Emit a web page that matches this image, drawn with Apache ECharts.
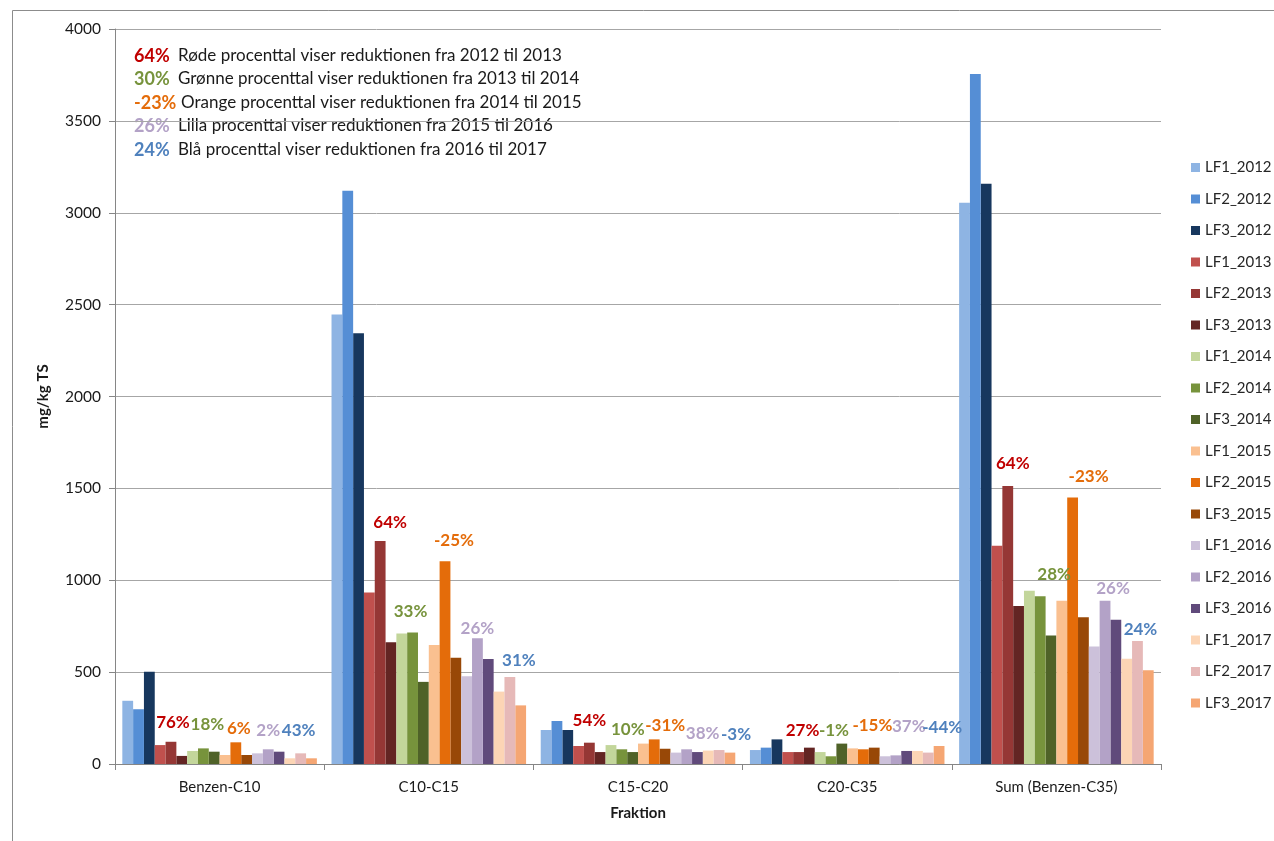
<!DOCTYPE html>
<html>
<head>
<meta charset="utf-8">
<title>Fraktion</title>
<script src="https://cdn.jsdelivr.net/npm/echarts@6/dist/echarts.min.js"></script>
<style>
  html, body { margin: 0; padding: 0; background: #fff; }
  #chart { width: 1274px; height: 841px; }
</style>
</head>
<body>
<div id="chart"></div>
<script>
// kategorier paa x-aksen
const categories = ['Benzen-C10', 'C10-C15', 'C15-C20', 'C20-C35', 'Sum (Benzen-C35)']
const seriesNames = [
  'LF1_2012', 'LF2_2012', 'LF3_2012',
  'LF1_2013', 'LF2_2013', 'LF3_2013',
  'LF1_2014', 'LF2_2014', 'LF3_2014',
  'LF1_2015', 'LF2_2015', 'LF3_2015',
  'LF1_2016', 'LF2_2016', 'LF3_2016',
  'LF1_2017', 'LF2_2017', 'LF3_2017'
]
const yTicks = [0, 500, 1000, 1500, 2000, 2500, 3000, 3500, 4000]

// mg/kg TS pr. fraktion, i samme raekkefoelge som seriesNames
const benzenC10 = [344, 298, 502, 103, 121, 44, 71, 85, 67, 49, 118, 49, 58, 80, 67, 31, 58, 31]
const c10C15 = [2446, 3120, 2344, 933, 1213, 662, 710, 716, 447, 647, 1104, 578, 478, 685, 572, 394, 474, 319]
const c15C20 = [185, 234, 185, 98, 116, 65, 103, 80, 65, 111, 134, 83, 62, 80, 65, 73, 76, 62]
const c20C35 = [76, 89, 134, 65, 65, 89, 65, 42, 111, 85, 80, 89, 42, 47, 71, 71, 62, 98]
const sumBenzenC35 = [3055, 3755, 3158, 1188, 1513, 860, 943, 913, 700, 888, 1450, 798, 640, 888, 785, 573, 670, 510]
const fractions = [benzenC10, c10C15, c15C20, c20C35, sumBenzenC35]

// reduktion i procent, 2013..2017 for hver fraktion
const pctBenzenC10 = ['76%', '18%', '6%', '2%', '43%']
const pctC10C15 = ['64%', '33%', '-25%', '26%', '31%']
const pctC15C20 = ['54%', '10%', '-31%', '38%', '-3%']
const pctC20C35 = ['27%', '-1%', '-15%', '37%', '-44%']
const pctSum = ['64%', '28%', '-23%', '26%', '24%']
const pctLabels = [pctBenzenC10, pctC10C15, pctC15C20, pctC20C35, pctSum]

// forklaring oeverst til venstre
const noteValues = ['64%', '30%', '-23%', '26%', '24%']
const noteTexts = [
  'Røde procenttal viser reduktionen fra 2012 til 2013',
  'Grønne procenttal viser reduktionen fra 2013 til 2014',
  'Orange procenttal viser reduktionen fra 2014 til 2015',
  'Lilla procenttal viser reduktionen fra 2015 til 2016',
  'Blå procenttal viser reduktionen fra 2016 til 2017'
]

const barColors = [
  '#8EB4E3', '#558ED5', '#17375E',
  '#C0504D', '#953735', '#632523',
  '#C3D69B', '#77933C', '#4F6228',
  '#FAC090', '#E46C0A', '#984807',
  '#CCC1DA', '#B3A2C7', '#604A7B',
  '#FCD5B5', '#E6B9B8', '#F5A673'
]
const pctColors = ['#C00000', '#77933C', '#E46C0A', '#B3A2C7', '#4F81BD']

// manuel placering af procent-etiketterne (px) i forhold til toppen af LF2-soejlen
const labelNudge = [
  [[2, -19], [4, -24], [3, -14], [0, -19], [-2, -23]],
  [[10, -19], [-2, -21], [9, -21], [0, -10], [9, -16]],
  [[0, -22], [6, -20], [11, -14], [16, -16], [17, -16]],
  [[4, -22], [3, -26], [9, -24], [13, -29], [14, -25]],
  [[5, -22], [14, -22], [16, -21], [8, -12], [3, -11]]
]

const FONT = 'Lato, "Open Sans", sans-serif'
const LABEL_SIZE = 17

const series = seriesNames.map((name, i) => {
  const year = Math.floor(i / 3) // 0 = 2012
  const isLF2 = i % 3 === 1
  const data = fractions.map((values, c) => {
    const item = { value: values[i] }
    if (isLF2 && year > 0) {
      const nudge = labelNudge[c][year - 1]
      item.label = {
        show: true,
        position: 'top',
        distance: 0,
        formatter: pctLabels[c][year - 1],
        color: pctColors[year - 1],
        fontFamily: FONT,
        fontWeight: 'bold',
        fontSize: LABEL_SIZE,
        offset: [nudge[0], nudge[1] + LABEL_SIZE / 2]
      }
    }
    return item
  })
  return {
    name: name,
    type: 'bar',
    data: data,
    barGap: '0%',
    barCategoryGap: '7%',
    itemStyle: { color: barColors[i] },
    emphasis: { disabled: true },
    z: isLF2 ? 3 : 2
  }
})

const noteGraphics = []
noteValues.forEach((v, k) => {
  const y = 57 + k * 23.5
  noteGraphics.push({
    type: 'text',
    left: 134,
    top: y - 10,
    style: { text: v, fill: pctColors[k], font: 'bold 18px ' + FONT }
  })
  noteGraphics.push({
    type: 'text',
    left: k === 2 ? 181 : 178,
    top: y - 10,
    style: { text: noteTexts[k], fill: '#1a1a1a', font: '17px ' + FONT }
  })
})

const chart = echarts.init(document.getElementById('chart'))
chart.setOption({
  animation: false,
  textStyle: { fontFamily: FONT },
  grid: { left: 115, right: 113, top: 29, bottom: 77 },
  legend: {
    orient: 'vertical',
    left: 1186,
    top: 155,
    icon: 'rect',
    itemWidth: 9,
    itemHeight: 9,
    itemGap: 16.5,
    selectedMode: false,
    data: seriesNames,
    textStyle: { fontFamily: FONT, fontSize: 15, color: '#262626' }
  },
  xAxis: {
    type: 'category',
    data: categories,
    name: 'Fraktion',
    nameLocation: 'middle',
    nameGap: 42,
    nameTextStyle: { fontFamily: FONT, fontWeight: 'bold', fontSize: 15, color: '#1a1a1a' },
    axisLine: { lineStyle: { color: '#868686' } },
    axisTick: { show: true, length: 6, lineStyle: { color: '#868686' } },
    axisLabel: { margin: 16, fontFamily: FONT, fontSize: 15, color: '#1a1a1a' }
  },
  yAxis: {
    type: 'value',
    min: yTicks[0],
    max: yTicks[yTicks.length - 1],
    interval: yTicks[1] - yTicks[0],
    name: 'mg/kg TS',
    nameLocation: 'middle',
    nameGap: 64,
    nameRotate: 90,
    nameTextStyle: { fontFamily: FONT, fontWeight: 'bold', fontSize: 15, color: '#1a1a1a' },
    axisLine: { show: true, lineStyle: { color: '#868686' } },
    axisTick: { show: true, length: 6, lineStyle: { color: '#868686' } },
    axisLabel: {
      margin: 14,
      fontFamily: FONT,
      fontSize: 15.5,
      color: '#1a1a1a',
      formatter: function (v) { return String(v) }
    },
    splitLine: { lineStyle: { color: '#A6A6A6' } }
  },
  graphic: [
    {
      type: 'rect',
      left: 10,
      top: 8,
      shape: { width: 1300, height: 900 },
      style: { fill: 'none', stroke: '#8C8C8C', lineWidth: 1 },
      silent: true
    }
  ].concat(noteGraphics),
  series: series
})
</script>
</body>
</html>
